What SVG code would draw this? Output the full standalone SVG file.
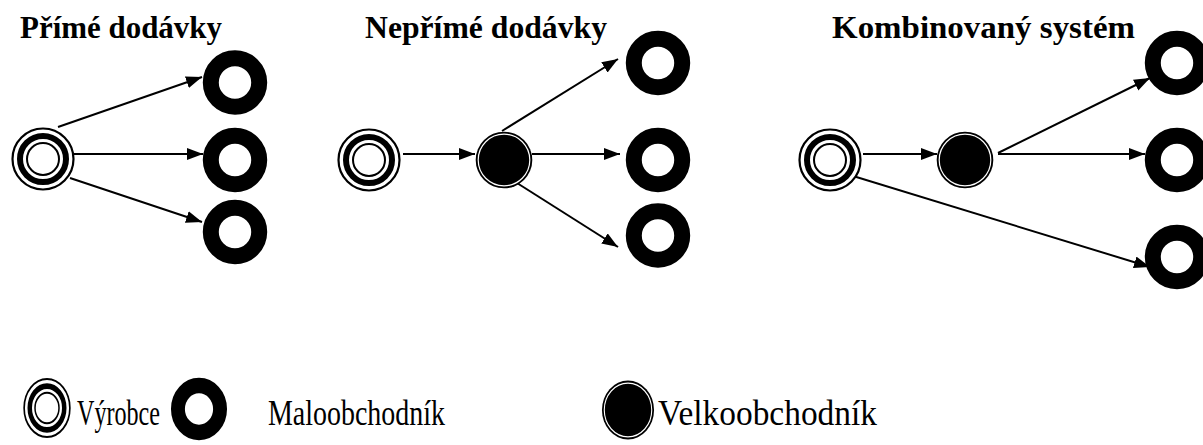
<svg xmlns="http://www.w3.org/2000/svg" width="1203" height="445" viewBox="0 0 1203 445">
<style>
.title{font-family:'Liberation Serif','Times New Roman','DejaVu Serif',serif;font-weight:bold;font-size:31px;fill:#000}
.leg{font-family:'Liberation Serif','Times New Roman','DejaVu Serif',serif;font-size:36px;fill:#000}
.conn{stroke:#000;stroke-width:2;fill:none;marker-end:url(#arr)}
</style>
<defs>
<marker id="arr" markerUnits="userSpaceOnUse" markerWidth="17" markerHeight="13" refX="16" refY="6" orient="auto">
<path d="M0,0 L16,6 L0,12 z" fill="#000"/>
</marker>
<g id="prodSym">
<circle r="30.5" fill="#fff" stroke="#000" stroke-width="2.2"/>
<circle r="23" fill="none" stroke="#000" stroke-width="6"/>
<circle r="16" fill="#fff" stroke="#000" stroke-width="2"/>
</g>
<g id="retSym">
<circle r="24.2" fill="#fff" stroke="#000" stroke-width="16"/>
</g>
<g id="wholeSym">
<circle r="28.3" fill="#000"/>
<circle r="25.8" fill="none" stroke="#fff" stroke-width="1.2"/>
</g>
</defs>
<rect width="1203" height="445" fill="#fff"/>

<text class="title" font-family="Liberation Serif, serif" x="20" y="38" textLength="202" lengthAdjust="spacingAndGlyphs">Přímé dodávky</text>
<text class="title" font-family="Liberation Serif, serif" x="365" y="38" textLength="242" lengthAdjust="spacingAndGlyphs">Nepřímé dodávky</text>
<text class="title" font-family="Liberation Serif, serif" x="832" y="38" textLength="303" lengthAdjust="spacingAndGlyphs">Kombinovaný systém</text>

<g id="connectors">
<line class="conn" x1="58" y1="127" x2="202" y2="77"/>
<line class="conn" x1="58" y1="154" x2="203" y2="154"/>
<line class="conn" x1="70" y1="178" x2="202" y2="222"/>
<line class="conn" x1="403" y1="154" x2="475" y2="154"/>
<line class="conn" x1="502" y1="131" x2="618" y2="59"/>
<line class="conn" x1="532" y1="154" x2="620" y2="154"/>
<line class="conn" x1="517" y1="183" x2="618" y2="247"/>
<line class="conn" x1="863" y1="154" x2="937" y2="154"/>
<line class="conn" x1="998" y1="153" x2="1150" y2="78"/>
<line class="conn" x1="998" y1="154" x2="1145" y2="154"/>
<line class="conn" x1="840" y1="172" x2="1150" y2="267"/>
</g>

<g id="producer1"><use href="#prodSym" x="43" y="159"/></g>
<g id="retailer1a"><use href="#retSym" x="235" y="82.5"/></g>
<g id="retailer1b"><use href="#retSym" x="235" y="160"/></g>
<g id="retailer1c"><use href="#retSym" x="235" y="232"/></g>

<g id="producer2"><use href="#prodSym" x="369" y="160"/></g>
<g id="wholesaler2"><use href="#wholeSym" x="504" y="160"/></g>
<g id="retailer2a"><use href="#retSym" x="658" y="63"/></g>
<g id="retailer2b"><use href="#retSym" x="658" y="160"/></g>
<g id="retailer2c"><use href="#retSym" x="658" y="235.5"/></g>

<g id="producer3"><use href="#prodSym" x="830" y="160"/></g>
<g id="wholesaler3"><use href="#wholeSym" x="965" y="160"/></g>
<g id="retailer3a"><use href="#retSym" x="1177" y="63"/></g>
<g id="retailer3b"><use href="#retSym" x="1177" y="160"/></g>
<g id="retailer3c"><use href="#retSym" x="1177" y="257"/></g>

<g id="legend-producer">
<use href="#prodSym" transform="translate(47,408) scale(0.75,0.95)"/>
<text class="leg" font-family="Liberation Serif, serif" x="77" y="425" textLength="83" lengthAdjust="spacingAndGlyphs">Výrobce</text>
</g>
<g id="legend-retailer">
<use href="#retSym" transform="translate(199,409) scale(0.87,0.97)"/>
<text class="leg" font-family="Liberation Serif, serif" x="268" y="425" textLength="177" lengthAdjust="spacingAndGlyphs">Maloobchodník</text>
</g>
<g id="legend-wholesaler">
<use href="#wholeSym" transform="translate(628,410) scale(0.92,1.04)"/>
<text class="leg" font-family="Liberation Serif, serif" x="658" y="425" textLength="219" lengthAdjust="spacingAndGlyphs">Velkoobchodník</text>
</g>
</svg>
